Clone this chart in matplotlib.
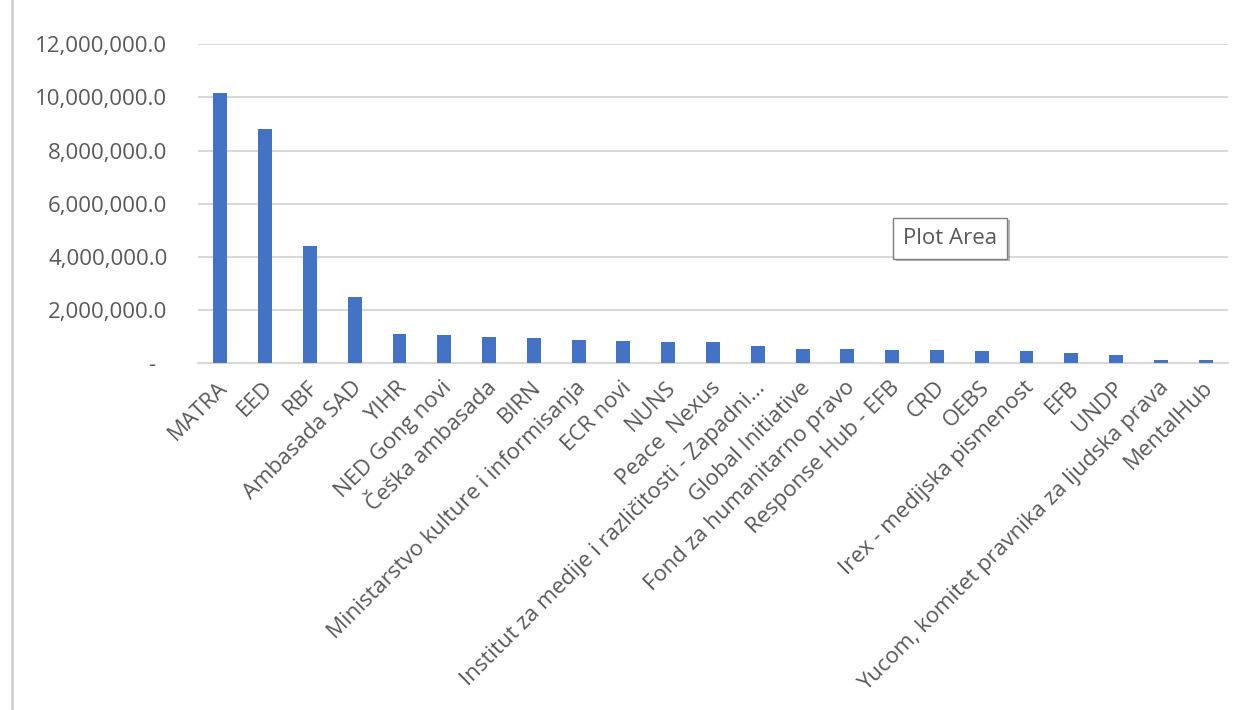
import numpy as np
import matplotlib
matplotlib.use("Agg")
import matplotlib.pyplot as plt
import matplotlib.patheffects as pe
import matplotlib.transforms as mtransforms
from matplotlib.ticker import FuncFormatter

donors = ["MATRA", "EED", "RBF", "Ambasada SAD", "YIHR", "NED Gong novi",
          "Češka ambasada", "BIRN", "Ministarstvo kulture i informisanja",
          "ECR novi", "NUNS", "Peace  Nexus",
          "Institut za medije i različitosti - Zapadni...",
          "Global Initiative", "Fond za humanitarno pravo",
          "Response Hub - EFB", "CRD", "OEBS", "Irex - medijska pismenost",
          "EFB", "UNDP", "Yucom, komitet pravnika za ljudska prava",
          "MentalHub"]
amounts = [10150000, 8800000, 4430000, 2500000, 1120000, 1060000,
           1000000, 950000, 890000, 840000, 790000, 790000,
           640000, 530000, 530000, 500000, 500000, 450000, 450000,
           400000, 300000, 140000, 140000]
yticks = [0, 2000000, 4000000, 6000000, 8000000, 10000000, 12000000]

plt.rcParams['font.family'] = ['Open Sans', 'DejaVu Sans']
grey = '#595959'
fs = 16

fig = plt.figure(figsize=(12.48, 7.10), dpi=100)
ax = fig.add_axes([198 / 1248, 1 - 363.3 / 710, (1228 - 198) / 1248, (363.3 - 44.3) / 710])

x = np.arange(len(donors))
ax.bar(x, amounts, width=0.31, color='#4472C4', zorder=3)

ax.set_xlim(-0.5, len(donors) - 0.5)
ax.set_ylim(0, 12000000)
ax.set_yticks(yticks)
ax.yaxis.set_major_formatter(FuncFormatter(lambda v, p: "-  " if v == 0 else f"{v:,.1f}"))
ax.grid(axis='y', color='#d9d9d9', linewidth=1.5, zorder=0)
for s in ['top', 'right', 'left']:
    ax.spines[s].set_visible(False)
ax.spines['bottom'].set_color('#d9d9d9')
ax.spines['bottom'].set_linewidth(1.5)
ax.tick_params(axis='both', length=0, labelsize=fs, labelcolor=grey)
ax.tick_params(axis='y', pad=22)
ax.set_xticks(x)
ax.set_xticklabels(donors, rotation=45, ha='right', va='top', rotation_mode='anchor')
ax.tick_params(axis='x', pad=10)
shift = mtransforms.ScaledTranslation(-3 / 100, 0, fig.dpi_scale_trans)
for lab in ax.get_xticklabels():
    lab.set_transform(lab.get_transform() + shift)

# left border of the chart area
fig.add_artist(plt.Line2D([12 / 1248, 12 / 1248], [0, 1], color='#d0d0d0', linewidth=2))

# Excel tooltip
t = fig.text(903 / 1248, 1 - 238 / 710, "Plot Area", fontsize=fs, color=grey,
             ha='left', va='center',
             bbox=dict(boxstyle='square,pad=0.45', facecolor='white', edgecolor='#7f7f7f', linewidth=1))
t.get_bbox_patch().set_path_effects([pe.SimplePatchShadow(offset=(2, -2), alpha=0.4), pe.Normal()])

fig.savefig("out.png", dpi=100, facecolor='white')
